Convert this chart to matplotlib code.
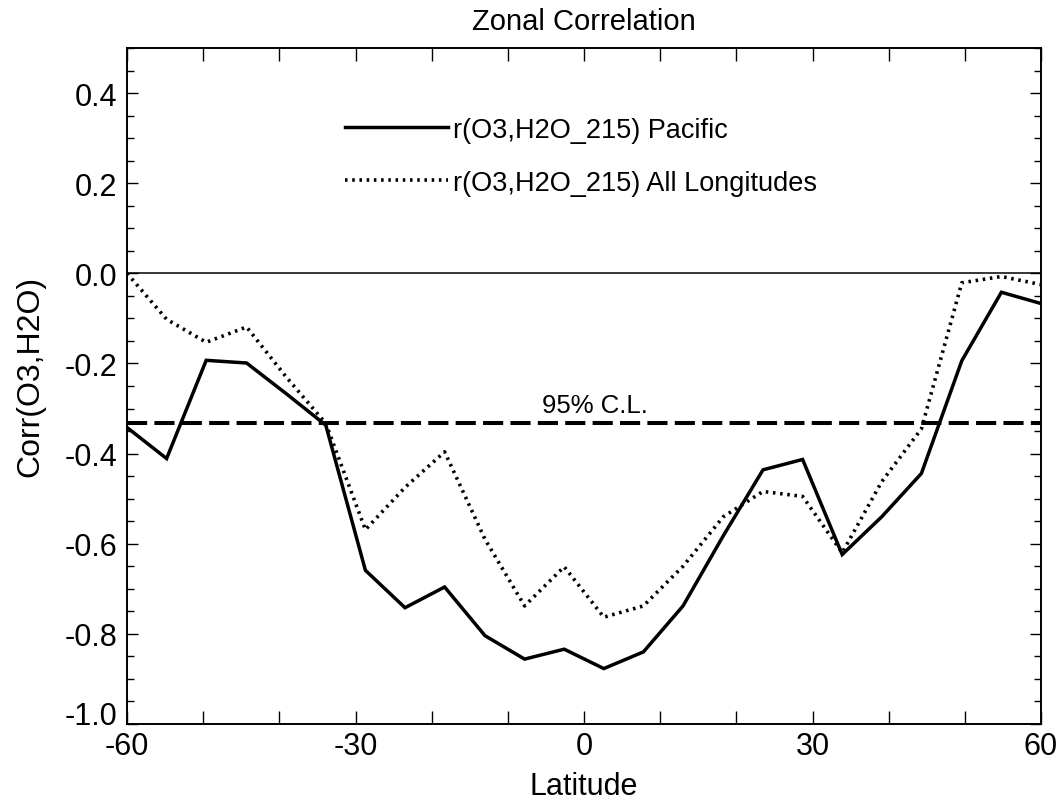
import matplotlib
matplotlib.use("Agg")
import matplotlib.pyplot as plt
from matplotlib.ticker import MultipleLocator, FixedLocator
from matplotlib.transforms import ScaledTranslation

plt.rcParams['font.family'] = ['Liberation Sans', 'DejaVu Sans']

# Data
lat = [-60.0, -54.8, -49.6, -44.3, -39.1, -33.9, -28.7, -23.5, -18.3, -13.0, -7.8, -2.6,
       2.6, 7.8, 13.0, 18.3, 23.5, 28.7, 33.9, 39.1, 44.3, 49.6, 54.8, 60.0]
pacific = [-0.342, -0.411, -0.193, -0.199, -0.267, -0.337, -0.659, -0.742, -0.696, -0.804,
           -0.856, -0.834, -0.877, -0.840, -0.738, -0.582, -0.436, -0.413, -0.624, -0.540,
           -0.444, -0.194, -0.042, -0.067]
all_lon = [0.000, -0.102, -0.153, -0.119, -0.230, -0.333, -0.569, -0.475, -0.396, -0.590,
           -0.738, -0.651, -0.763, -0.738, -0.650, -0.540, -0.484, -0.495, -0.620, -0.462,
           -0.345, -0.021, -0.007, -0.025]
conf_level = -0.333
label_pacific = "r(O3,H2O_215) Pacific"
label_all = "r(O3,H2O_215) All Longitudes"
xticks = [-60, -30, 0, 30, 60]
yticks = [-1.0, -0.8, -0.6, -0.4, -0.2, 0.0, 0.2, 0.4]

W, H = 1063, 804
fig = plt.figure(figsize=(W / 100, H / 100), dpi=100)
ax = fig.add_axes([127 / W, 1 - 725 / H, (1041 - 127) / W, (725 - 49) / H])

ax.plot([-60, 60], [0, 0], color='black', lw=1.1)
ax.plot([-60, 60], [conf_level, conf_level], color='black', lw=2.9,
        linestyle=(0, (5.0, 1.8)))
l1, = ax.plot(lat, pacific, color='black', lw=2.5, solid_joinstyle='miter',
              label=label_pacific)
l2, = ax.plot(lat, all_lon, color='black', lw=2.6, linestyle=(0, (0.7, 1.3)),
              label=label_all)

ax.text(1.5, -0.292, "95% C.L.", ha='center', va='center', fontsize=18.5)

ax.set_xlim(-60, 60)
ax.set_ylim(-1.0, 0.5)
ax.xaxis.set_major_locator(FixedLocator(xticks))
ax.xaxis.set_minor_locator(MultipleLocator(10))
ax.yaxis.set_major_locator(FixedLocator(yticks))
ax.yaxis.set_minor_locator(MultipleLocator(0.05))
ax.set_xticklabels([str(v) for v in xticks])
ax.set_yticklabels([f"{v:.1f}" for v in yticks])

ax.tick_params(axis='x', which='both', direction='in', top=True, bottom=True,
               length=9.5, width=1.0, labelsize=22, pad=5)
ax.tick_params(axis='y', which='major', direction='in', left=True, right=True,
               length=8, width=1.0, labelsize=22, pad=7)
ax.tick_params(axis='y', which='minor', direction='in', left=True, right=True,
               length=5, width=1.0)
for s in ax.spines.values():
    s.set_linewidth(1.4)

# raise the bottom y label (-1.0) a little, as in the reference
lab = ax.yaxis.get_major_ticks()[0].label1
lab.set_transform(lab.get_transform() + ScaledTranslation(0, 0.11, fig.dpi_scale_trans))

ax.set_xlabel("Latitude", fontsize=22, labelpad=7)
ax.set_ylabel("Corr(O3,H2O)", fontsize=23)
ax.yaxis.set_label_coords(-0.089, 0.515)
ax.set_title("Zonal Correlation", fontsize=21, pad=14)

ax.legend(handles=[l1, l2], loc='upper left', bbox_to_anchor=(0.2385, 0.8985),
          frameon=False, fontsize=19.5, handlelength=3.8, handletextpad=0.2,
          labelspacing=1.01, borderpad=0, borderaxespad=0)

fig.savefig("out.png", dpi=100)
